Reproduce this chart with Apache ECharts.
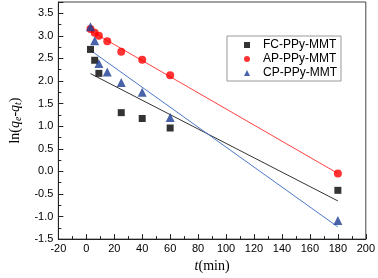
<!DOCTYPE html>
<html><head><meta charset="utf-8">
<script src="https://cdn.jsdelivr.net/npm/echarts@6/dist/echarts.min.js"></script>
<style>html,body{margin:0;padding:0;background:#fff}#c{width:378px;height:278px}</style>
</head><body><div id="c"></div>
<script>
const fcX = [3, 6, 9, 25, 40, 60, 180];
const fcY = [2.70, 2.46, 2.17, 1.30, 1.17, 0.96, -0.42];
const apX = [3, 6, 9, 15, 25, 40, 60, 180];
const apY = [3.15, 3.07, 3.00, 2.88, 2.65, 2.47, 2.13, -0.05];
const cpX = [3, 6, 9, 15, 25, 40, 60, 180];
const cpY = [3.20, 2.89, 2.39, 2.20, 1.97, 1.75, 1.19, -1.09];
const names = ['FC-PPy-MMT', 'AP-PPy-MMT', 'CP-PPy-MMT'];

function pairs(xs, ys) { return xs.map((x, i) => [x, ys[i]]); }
function fit(xs, ys) {
  const n = xs.length;
  const mx = xs.reduce((a, b) => a + b, 0) / n, my = ys.reduce((a, b) => a + b, 0) / n;
  let sxx = 0, sxy = 0;
  for (let i = 0; i < n; i++) { sxx += (xs[i] - mx) ** 2; sxy += (xs[i] - mx) * (ys[i] - my); }
  const k = sxy / sxx, b = my - k * mx;
  const x0 = Math.min(...xs), x1 = Math.max(...xs);
  return [[x0, k * x0 + b], [x1, k * x1 + b]];
}

const chart = echarts.init(document.getElementById('c'), null, {renderer: 'canvas'});
const axisFont = {fontFamily: 'Liberation Sans, Arial, sans-serif', fontSize: 11, color: '#000'};
chart.setOption({
  animation: false,
  grid: {left: 43, right: 11, top: 2, bottom: 35, show: true, borderColor: '#444', borderWidth: 1, backgroundColor: 'transparent'},
  xAxis: {
    type: 'value', min: -20, max: 200, interval: 20,
    name: '{i|t}{n|(min)}', nameLocation: 'middle', nameGap: 17,
    nameTextStyle: {rich: {
      i: {fontFamily: 'Liberation Serif, Times New Roman, serif', fontStyle: 'italic', fontSize: 14, color: '#000'},
      n: {fontFamily: 'Liberation Serif, Times New Roman, serif', fontSize: 14, color: '#000'}
    }},
    axisLine: {onZero: false, lineStyle: {color: '#222', width: 1}},
    axisTick: {inside: true, length: 5, lineStyle: {color: '#222'}},
    minorTick: {show: true, splitNumber: 2, length: 3, lineStyle: {color: '#222'}},
    axisLabel: Object.assign({margin: 4}, axisFont),
    splitLine: {show: false}
  },
  yAxis: {
    type: 'value', min: -1.5, max: 3.75, interval: 0.5,
    name: '{n|ln(}{i|q}{s|e}{n|-}{i|q}{s|t}{n|)}', nameLocation: 'middle', nameGap: 22, nameRotate: 90,
    nameTextStyle: {rich: {
      n: {fontFamily: 'Liberation Serif, Times New Roman, serif', fontSize: 14, color: '#000'},
      i: {fontFamily: 'Liberation Serif, Times New Roman, serif', fontStyle: 'italic', fontSize: 14, color: '#000'},
      s: {fontFamily: 'Liberation Serif, Times New Roman, serif', fontStyle: 'italic', fontSize: 10, color: '#000', padding: [7, 0, 0, 0]}
    }},
    axisLine: {onZero: false, lineStyle: {color: '#222', width: 1}},
    axisTick: {inside: true, length: 5, lineStyle: {color: '#222'}},
    minorTick: {show: true, splitNumber: 2, length: 3, lineStyle: {color: '#222'}},
    axisLabel: Object.assign({margin: 5, showMaxLabel: false, formatter: v => v.toFixed(1)}, axisFont),
    splitLine: {show: false}
  },
  legend: {
    orient: 'vertical', left: 227, top: 36, padding: [2, 4, 1, 17],
    borderColor: '#999', borderWidth: 1, itemGap: 0, itemWidth: 6, itemHeight: 6,
    textStyle: {fontFamily: 'Liberation Sans, Arial, sans-serif', fontSize: 12, color: '#000', lineHeight: 14, padding: [0, 0, 0, 8]},
    data: names
  },
  series: [
    {type: 'line', data: fit(fcX, fcY), symbol: 'none', lineStyle: {color: '#333', width: 1}, silent: true, z: 1},
    {type: 'line', data: fit(apX, apY), symbol: 'none', lineStyle: {color: '#ff4040', width: 1}, silent: true, z: 1},
    {type: 'line', data: fit(cpX, cpY), symbol: 'none', lineStyle: {color: '#4a78c8', width: 1}, silent: true, z: 1},
    {name: names[0], type: 'scatter', data: pairs(fcX, fcY), symbol: 'rect', symbolSize: 7, itemStyle: {color: '#000'}, z: 3},
    {name: names[1], type: 'scatter', data: pairs(apX, apY), symbol: 'circle', symbolSize: 8, itemStyle: {color: '#ff0000'}, z: 3},
    {name: names[2], type: 'scatter', data: pairs(cpX, cpY), symbol: 'triangle', symbolSize: 9, itemStyle: {color: '#1c3c96'}, z: 3}
  ]
});
</script></body></html>
